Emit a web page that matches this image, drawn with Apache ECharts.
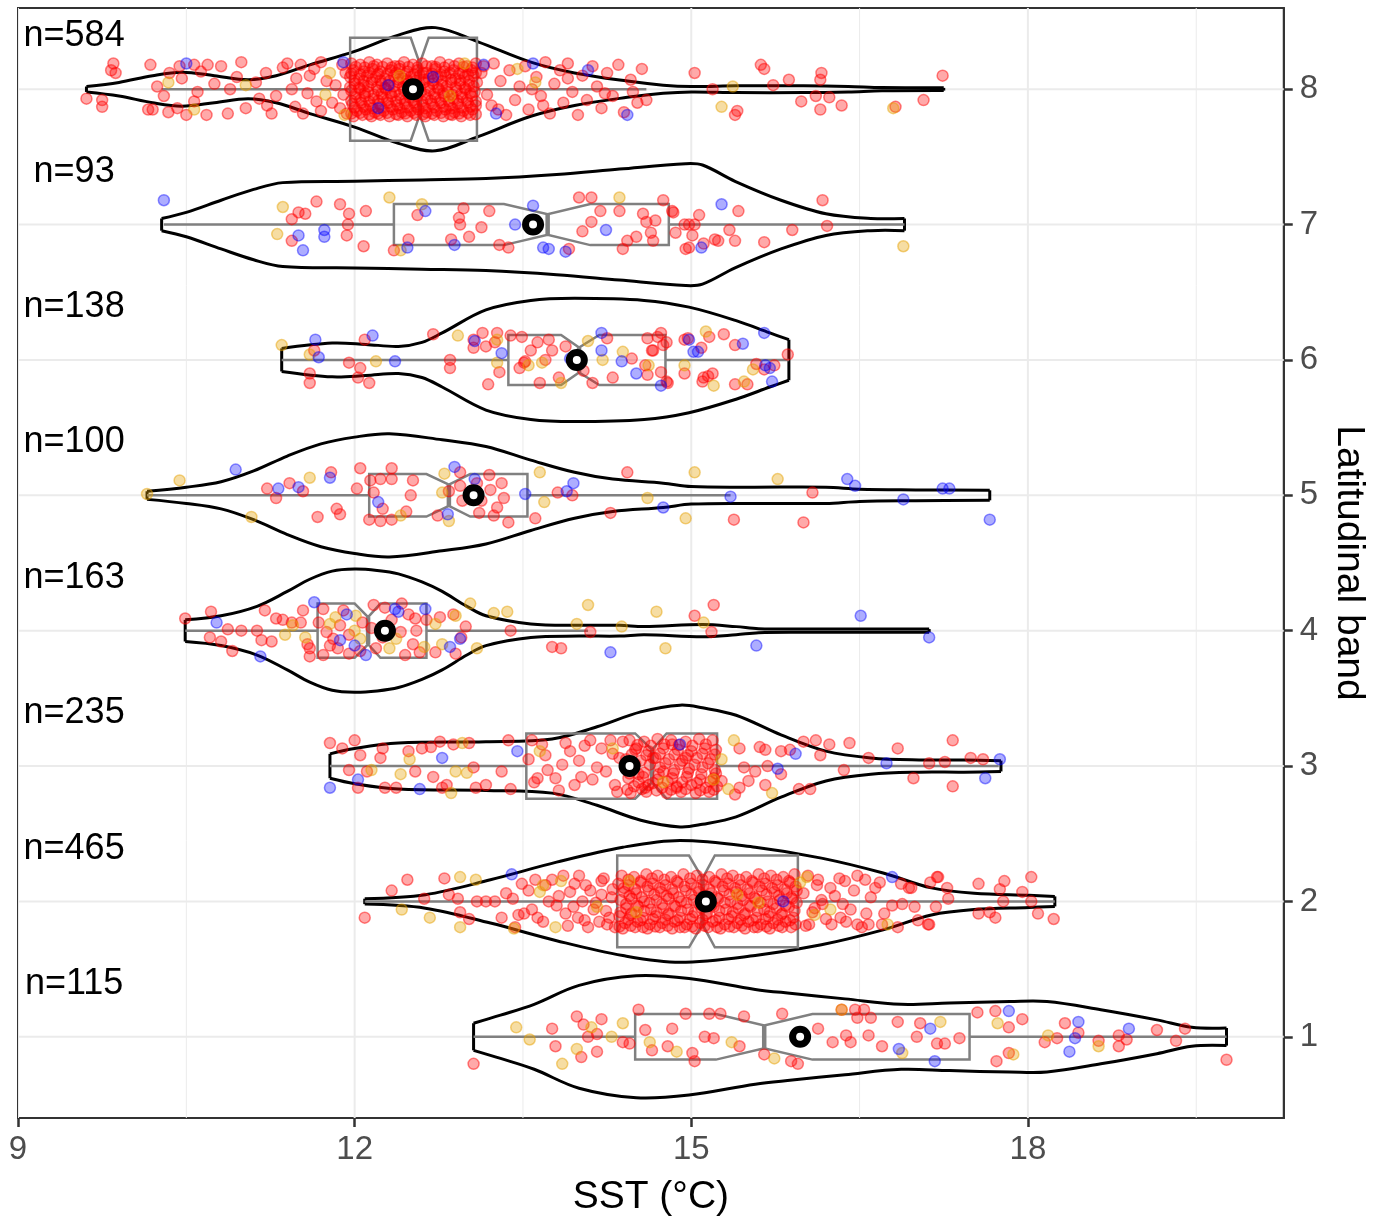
<!DOCTYPE html>
<html>
<head>
<meta charset="utf-8">
<script src="https://cdn.jsdelivr.net/npm/echarts@6/dist/echarts.min.js"></script>
<style>
  html, body { margin: 0; padding: 0; background: #fff; overflow: hidden; }
  #chart { width: 1376px; height: 1222px; }
</style>
</head>
<body>
<div id="chart"></div>
<script>
// bands 1..8 (bottom to top)
const bands = [1, 2, 3, 4, 5, 6, 7, 8];
const nCounts = [115, 465, 235, 163, 100, 138, 93, 584];
const nLabels = ['n=115', 'n=465', 'n=235', 'n=163', 'n=100', 'n=138', 'n=93', 'n=584'];
const means = [15.97, 15.13, 14.45, 12.27, 13.06, 13.98, 13.59, 12.52];

const xTicks = [9, 12, 15, 18];
const xMinor = [10.5, 13.5, 16.5, 19.5];

// box stats: [whisker low, q1, notch low, median, notch high, q3, whisker high]
const box1 = [13.06, 14.5, 15.22, 15.65, 16.08, 17.48, 19.77];
const box2 = [12.09, 14.34, 14.98, 15.1, 15.21, 15.95, 18.24];
const box3 = [11.78, 13.53, 14.5, 14.65, 14.78, 15.23, 17.74];
const box4 = [10.49, 11.67, 12.0, 12.12, 12.23, 12.64, 14.08];
const box5 = [10.15, 12.13, 12.64, 12.84, 13.03, 13.54, 15.35];
const box6 = [11.35, 13.37, 13.84, 14.0, 14.18, 14.77, 15.87];
const box7 = [10.3, 12.35, 13.33, 13.72, 14.1, 14.8, 16.9];
const box8 = [10.28, 11.96, 12.5, 12.58, 12.66, 13.09, 14.6];

// violin outlines: [x, half width in band units]
const violin1 = [[13.06,0.1],[13.3,0.16],[13.6,0.24],[14.0,0.38],[14.51,0.45],[14.98,0.43],[15.57,0.35],[15.9,0.32],[16.37,0.28],[16.87,0.24],[17.3,0.25],[17.84,0.26],[18.17,0.26],[18.65,0.2],[19.15,0.125],[19.46,0.07],[19.77,0.065]];
const violin2 = [[12.09,0.02],[12.63,0.05],[13.21,0.16],[13.8,0.29],[14.39,0.4],[14.9,0.45],[15.57,0.4],[16.16,0.32],[16.71,0.21],[17.14,0.1],[17.52,0.06],[18.01,0.045],[18.24,0.037]];
const violin3 = [[11.78,0.09],[12.0,0.13],[12.39,0.17],[13.17,0.18],[13.76,0.2],[14.16,0.29],[14.55,0.4],[14.9,0.45],[15.1,0.43],[15.4,0.375],[15.8,0.23],[16.2,0.11],[16.6,0.06],[17.03,0.045],[17.43,0.045],[17.76,0.04]];
const violin4 = [[10.49,0.08],[10.81,0.11],[11.13,0.18],[11.4,0.29],[11.6,0.38],[11.8,0.44],[12.0,0.455],[12.2,0.445],[12.39,0.42],[12.6,0.36],[12.78,0.29],[13.0,0.18],[13.17,0.11],[13.57,0.05],[14.0,0.04],[14.36,0.04],[14.58,0.03],[15.1,0.045],[15.4,0.03],[15.6,0.015],[16.0,0.012],[17.12,0.012]];
const violin5 = [[10.15,0.03],[10.5,0.06],[10.81,0.1],[11.1,0.18],[11.4,0.29],[11.7,0.38],[12.0,0.43],[12.31,0.455],[12.78,0.41],[13.17,0.36],[13.57,0.26],[13.96,0.17],[14.3,0.12],[14.75,0.09],[15.0,0.065],[15.5,0.06],[16.2,0.06],[16.5,0.045],[17.0,0.04],[17.66,0.037]];
const violin6 = [[11.35,0.085],[11.8,0.125],[12.1,0.115],[12.39,0.1],[12.6,0.13],[12.78,0.2],[13.17,0.37],[13.57,0.44],[13.96,0.455],[14.58,0.44],[14.98,0.39],[15.4,0.29],[15.7,0.2],[15.87,0.15]];
const violin7 = [[10.28,0.045],[10.5,0.09],[10.81,0.18],[11.1,0.26],[11.36,0.31],[12.0,0.32],[12.6,0.33],[13.17,0.34],[13.8,0.37],[14.36,0.41],[14.95,0.45],[15.1,0.44],[15.39,0.32],[15.8,0.18],[16.2,0.08],[16.6,0.045],[16.9,0.045]];
const violin8 = [[9.61,0.02],[9.9,0.05],[10.2,0.1],[10.46,0.125],[10.75,0.1],[11.05,0.07],[11.3,0.1],[11.6,0.18],[12.0,0.28],[12.39,0.4],[12.72,0.455],[13.1,0.35],[13.57,0.2],[13.96,0.12],[14.43,0.06],[14.75,0.03],[15.0,0.02],[15.4,0.025],[16.0,0.025],[16.4,0.02],[16.7,0.012],[17.25,0.01]];

// jittered observations: [SST, vertical jitter]
const red1 = [[13.06,-0.2],[13.76,0.06],[13.79,-0.07],[13.98,0.15],[14.04,0.09],[14.08,0],[14.02,-0.15],[14.16,-0.11],[14.2,0.13],[14.16,0.02],[14.39,-0.04],[14.45,-0.05],[14.53,0.2],[14.59,0.05],[14.65,-0.1],[14.79,-0.07],[14.83,0.06],[14.95,0.17],[15.01,-0.12],[15.03,-0.18],[15.12,0],[15.16,0.17],[15.2,-0.01],[15.26,0.17],[15.43,-0.07],[15.47,0.15],[15.65,-0.13],[15.81,0.17],[15.89,-0.18],[15.95,-0.2],[16.13,0.06],[16.26,-0.04],[16.34,0.2],[16.38,0.01],[16.42,-0.04],[16.46,0.2],[16.54,0.2],[16.48,0.14],[16.58,0.01],[16.6,0.14],[16.7,-0.07],[16.84,0.11],[17.04,0.1],[17.19,-0.05],[17.01,0],[17.26,-0.05],[17.39,-0.01],[17.55,0.18],[17.71,0.19],[17.83,0.07],[17.95,0.13],[17.72,-0.18],[17.83,-0.12],[18.15,-0.04],[18.26,-0.01],[18.33,0.1],[18.45,0.03],[18.63,-0.03],[18.81,0.01],[18.81,-0.07],[18.88,-0.02],[19.15,0.05],[19.32,-0.03],[19.4,0.06],[19.77,-0.17]];
const org1 = [[13.44,0.07],[13.56,-0.02],[13.85,-0.2],[13.98,-0.09],[14.11,0.07],[14.29,0],[14.39,0.1],[14.63,-0.04],[14.87,-0.11],[15.36,-0.04],[15.74,-0.16],[16.34,0.2],[16.88,-0.12],[17.22,0.11],[17.73,0.1],[17.87,-0.13],[18.18,0.01],[18.63,-0.07]];
const blu1 = [[16.85,-0.09],[17.13,0.06],[17.17,-0.18],[17.83,0.19],[18.37,-0.11],[18.45,0.11],[18.42,-0.01],[18.9,0.06]];

const red2 = [[12.09,-0.12],[12.33,0.08],[12.47,0.16],[12.62,0.02],[12.8,0.17],[12.84,0.05],[12.92,0.02],[12.94,-0.08],[13.02,-0.13],[13.09,0],[13.17,0],[13.25,0],[13.31,-0.12],[13.41,0.02],[13.43,-0.19],[13.49,0.13],[13.51,-0.09],[13.61,0.16],[13.63,-0.12],[13.73,0],[13.76,0.16],[13.88,-0.09],[13.96,0.13],[14.05,-0.14],[14.03,0],[14.2,0.15],[14.25,-0.17],[14.29,0.03],
[13.55,0.08],[13.68,-0.15],[13.82,0.04],[13.9,-0.18],[14.0,0.19],[14.1,0.08],[14.13,-0.06],[14.22,0.17],[14.27,-0.12],[14.08,-0.19],[13.95,-0.04],[13.7,0.12],[13.58,-0.06],[13.35,0.06],[13.46,-0.1],[14.3,0.09],[14.18,-0.15],[13.86,0.19],
[13.92,0.07],[14.06,0.12],[14.15,-0.01],[14.24,-0.07],[14.32,-0.19],[13.99,-0.12],[13.8,-0.03],[14.2,0.05],
[14.38,0.19],[14.49,0.18],[14.6,0.2],[14.7,0.19],[14.82,0.18],[14.93,0.2],[15.05,0.19],[15.16,0.18],[15.27,0.2],[15.37,0.19],[15.49,0.18],[15.6,0.2],[15.71,0.19],[15.82,0.18],[15.92,0.2],
[14.44,0.16],[14.55,0.15],[14.65,0.17],[14.76,0.16],[14.87,0.15],[14.99,0.17],[15.1,0.16],[15.21,0.15],[15.32,0.17],[15.43,0.16],[15.54,0.15],[15.65,0.17],[15.76,0.16],[15.87,0.15],
[14.35,0.13],[14.44,0.12],[14.55,0.14],[14.66,0.13],[14.77,0.12],[14.88,0.14],[15.0,0.13],[15.11,0.12],[15.22,0.14],[15.33,0.13],[15.44,0.12],[15.55,0.14],[15.66,0.13],[15.77,0.12],[15.88,0.14],
[14.4,0.1],[14.5,0.09],[14.61,0.11],[14.72,0.1],[14.83,0.09],[14.94,0.11],[15.05,0.1],[15.16,0.09],[15.28,0.11],[15.39,0.1],[15.5,0.09],[15.61,0.11],[15.72,0.1],[15.83,0.09],[15.93,0.11],
[14.4,0.07],[14.51,0.06],[14.62,0.08],[14.73,0.07],[14.84,0.06],[14.95,0.08],[15.07,0.07],[15.18,0.06],[15.29,0.08],[15.4,0.07],[15.52,0.06],[15.63,0.08],[15.74,0.07],[15.85,0.06],[15.94,0.08],
[14.45,0.04],[14.56,0.03],[14.67,0.05],[14.78,0.04],[14.89,0.03],[15.0,0.05],[15.12,0.04],[15.23,0.03],[15.34,0.05],[15.45,0.04],[15.56,0.03],[15.67,0.05],[15.78,0.04],[15.89,0.03],
[14.37,0.01],[14.47,0.02],[14.58,0],[14.69,0.01],[14.8,0.02],[14.91,0],[15.02,0.01],[15.24,0.02],[15.35,0],[15.46,0.01],[15.57,0.02],[15.68,0],[15.79,0.01],[15.9,0.02],
[14.42,-0.02],[14.52,-0.03],[14.63,-0.01],[14.74,-0.02],[14.85,-0.03],[14.96,-0.01],[15.07,-0.02],[15.18,-0.03],[15.3,-0.01],[15.41,-0.02],[15.52,-0.03],[15.62,-0.01],[15.73,-0.02],[15.84,-0.03],[15.94,-0.01],
[14.42,-0.05],[14.53,-0.04],[14.64,-0.06],[14.75,-0.05],[14.86,-0.04],[14.97,-0.06],[15.09,-0.05],[15.2,-0.04],[15.31,-0.06],[15.42,-0.05],[15.53,-0.04],[15.65,-0.06],[15.76,-0.05],[15.87,-0.04],
[14.37,-0.08],[14.47,-0.09],[14.58,-0.07],[14.69,-0.08],[14.8,-0.09],[14.91,-0.07],[15.03,-0.08],[15.14,-0.09],[15.25,-0.07],[15.37,-0.08],[15.48,-0.09],[15.59,-0.07],[15.7,-0.08],[15.81,-0.09],[15.92,-0.07],
[14.36,-0.11],[14.46,-0.1],[14.57,-0.12],[14.68,-0.11],[14.79,-0.1],[14.9,-0.12],[15.01,-0.11],[15.13,-0.1],[15.25,-0.12],[15.36,-0.11],[15.47,-0.1],[15.58,-0.12],[15.69,-0.11],[15.8,-0.1],[15.91,-0.12],
[14.44,-0.135],[14.55,-0.14],[14.66,-0.13],[14.77,-0.135],[14.88,-0.14],[14.99,-0.13],[15.1,-0.135],[15.22,-0.14],[15.33,-0.13],[15.44,-0.135],[15.55,-0.14],[15.66,-0.13],[15.77,-0.135],[15.88,-0.14],
[14.41,-0.16],[14.52,-0.15],[14.63,-0.17],[14.74,-0.16],[14.85,-0.15],[14.96,-0.17],[15.08,-0.16],[15.19,-0.15],[15.3,-0.17],[15.41,-0.16],[15.51,-0.15],[15.62,-0.17],[15.73,-0.16],[15.84,-0.15],[15.93,-0.17],
[14.36,-0.185],[14.46,-0.18],[14.57,-0.19],[14.68,-0.185],[14.79,-0.18],[14.9,-0.19],[15.01,-0.185],[15.12,-0.18],[15.23,-0.19],[15.34,-0.185],[15.45,-0.18],[15.56,-0.19],[15.67,-0.185],[15.78,-0.18],[15.89,-0.19],
[14.39,-0.2],[14.5,-0.19],[14.61,-0.2],[14.72,-0.19],[14.83,-0.2],[14.94,-0.19],[15.04,-0.2],[15.15,-0.19],[15.26,-0.2],[15.38,-0.19],[15.48,-0.2],[15.59,-0.19],[15.7,-0.2],[15.81,-0.19],
[16.13,0.16],[16.24,0.1],[16.37,0.15],[16.48,0.19],[16.17,-0.02],[16.33,-0.12],[16.05,-0.17],[16.48,-0.17],[16.56,-0.09],[16.64,0.1],[16.84,-0.19],[16.96,0.1],[17.11,-0.17],[17.19,0.18],[16.88,-0.02],
[16.0,0.06],[16.08,-0.08],[16.12,0.12],[16.2,-0.13],[16.28,0.04],[16.32,0.17],[16.42,-0.06],[16.45,0.08],[16.52,-0.19],[16.6,0.03],[16.68,0.14],[16.72,-0.09],[16.02,-0.18],[16.38,-0.15],
[16.04,0.19],[16.16,0.01],[16.25,-0.17],[16.35,-0.02],[16.55,0.16],[16.1,-0.05],
[16.87,0.13],[16.94,0.1],[17.13,0.14],[17.2,0.18],[17.28,0.1],[17.12,-0.17],[17.02,-0.14],[17.18,-0.04],[17.29,0.02],[17.56,0.13],[17.56,-0.09],[17.66,-0.08],[17.71,-0.12],[17.75,0.09],[17.79,0.15],[17.78,0],[17.95,0.07],[18.03,0.18],[18.03,0],[18.09,-0.09],[18.23,-0.13],[16.99,-0.04],[16.79,-0.03],[16.7,-0.17],[16.58,-0.17]];
const org2 = [[12.42,-0.06],[12.67,-0.12],[12.94,0.18],[13.08,0.16],[12.94,-0.19],[13.42,-0.2],[13.65,0.07],[13.68,0.12],[13.79,-0.19],[13.84,0.15],[14.16,-0.04],[14.51,-0.08],[15.41,0.05],[15.6,-0.01],[16.03,0.18],[16.24,-0.06],[16.75,-0.17],[14.45,0.15],[15.97,0.14],[16.1,-0.1]];
const blu2 = [[13.4,0.2],[15.82,0],[16.79,0.18]];

const red3 = [[11.78,0.17],[12.0,0.19],[12.05,0.08],[12.03,-0.16],[11.89,0.13],[11.95,-0.03],[12.11,-0.04],[12.25,0.13],[12.23,0.06],[12.27,-0.16],[12.37,-0.16],[12.48,0.11],[12.54,-0.04],[12.6,0.13],[12.68,0.14],[12.7,-0.08],[12.76,0.18],[12.78,-0.16],[12.82,-0.14],[12.88,0.16],[13.02,0.17],[13.06,-0.01],[13.08,-0.16],[13.17,-0.14],[13.31,-0.04],[13.37,0.19],[13.39,-0.17],[13.55,0.05],[13.63,-0.09],[13.67,0.16],[13.72,-0.03],[13.79,-0.09],[13.85,0.01],[13.92,0.11],[13.96,-0.14],[14.02,-0.08],[14.1,0.19],[14.16,-0.01],[14.2,0.13],[14.28,0.19],[14.32,-0.14],[14.36,0.06],[14.39,0.18],[14.34,-0.19],[14.51,0.13],[14.53,-0.06],[14.59,-0.16],[14.66,0.06],[14.75,-0.04],[14.83,0.16],[14.87,-0.16],[14.95,0.06],
[13.6,-0.12],[13.7,0.08],[13.82,-0.18],[13.88,0.17],[14.0,0.04],[14.05,0.15],[14.12,-0.1],[14.24,-0.04],[14.3,0.09],[13.58,0.19],
[14.45,0.19],[14.58,0.18],[14.7,0.2],[14.82,0.19],[14.95,0.18],[15.07,0.2],[15.19,0.19],
[14.52,0.155],[14.64,0.15],[14.76,0.16],[14.89,0.155],[15.01,0.15],[15.13,0.16],
[14.5,0.12],[14.62,0.11],[14.75,0.13],[14.88,0.12],[15.0,0.11],[15.12,0.13],[15.22,0.12],
[14.47,0.085],[14.6,0.08],[14.72,0.09],[14.85,0.085],[14.97,0.08],[15.1,0.09],[15.21,0.085],
[14.42,0.05],[14.55,0.04],[14.68,0.06],[14.8,0.05],[14.92,0.04],[15.05,0.06],[15.17,0.05],
[14.5,0.015],[14.63,0.01],[14.77,0.02],[14.9,0.015],[15.03,0.01],[15.15,0.02],
[14.47,-0.02],[14.72,-0.01],[14.85,-0.03],[14.98,-0.02],[15.1,-0.01],[15.21,-0.03],
[14.45,-0.055],[14.58,-0.05],[14.71,-0.06],[14.84,-0.055],[14.97,-0.05],[15.09,-0.06],[15.22,-0.055],
[14.44,-0.09],[14.57,-0.08],[14.7,-0.1],[14.83,-0.09],[14.96,-0.08],[15.08,-0.1],[15.2,-0.09],
[14.53,-0.12],[14.66,-0.125],[14.79,-0.115],[14.92,-0.12],[15.05,-0.125],[15.17,-0.115],
[14.49,-0.15],[14.62,-0.14],[14.74,-0.16],[14.87,-0.15],[15.0,-0.14],[15.13,-0.16],[15.23,-0.15],
[14.43,-0.175],[14.56,-0.17],[14.69,-0.18],[14.82,-0.175],[14.95,-0.17],[15.08,-0.18],[15.2,-0.175],
[14.46,-0.2],[14.6,-0.19],[14.78,-0.2],[14.91,-0.19],[15.04,-0.2],[15.16,-0.19],
[15.43,0.13],[15.61,0.14],[15.66,0.12],[15.8,0.11],[15.88,0.12],[16.0,0.18],[16.11,0.19],[16.23,0.16],[16.15,0.08],[16.41,0.17],[16.84,0.13],[17.33,0.19],[16.58,0.06],[17.12,0.02],[17.26,0.03],[17.49,0.06],[17.6,0.05],[15.47,-0.01],[15.57,-0.04],[15.68,0],[15.8,-0.06],[16.36,-0.03],[15.43,-0.16],[15.51,-0.11],[15.39,-0.21],[15.66,-0.14],[15.96,-0.17],[16.06,-0.17],[16.98,-0.09],[17.33,-0.15],[15.27,-0.11]];
const org3 = [[12.15,-0.03],[12.41,-0.06],[12.49,0.05],[12.86,-0.2],[12.96,0.17],[13.0,-0.05],[12.9,-0.04],[13.65,0.11],[15.38,0.19],[15.33,-0.17],[15.72,-0.2],[15.27,0.05],[14.3,0.13],[14.75,-0.12],[15.2,-0.1]];
const blu3 = [[11.78,-0.16],[12.03,-0.1],[12.78,0.06],[13.45,0.11],[15.93,0.09],[16.74,0.02],[17.75,0.05],[15.77,-0.02],[17.62,-0.09],[14.9,0.16],[12.58,-0.17]];

const red4 = [[10.49,0.09],[10.72,0.14],[10.71,-0.05],[10.87,0.01],[10.91,-0.15],[10.99,0],[10.81,-0.08],[11.2,0.15],[11.13,0],[11.17,-0.07],[11.26,-0.08],[11.3,0.09],[11.36,0.08],[11.44,0.06],[11.54,0.15],[11.52,0.06],[11.6,-0.19],[11.6,-0.13],[11.72,0.16],[11.75,-0.01],[11.78,-0.11],[11.72,-0.18],[11.87,0.04],[11.81,-0.06],[11.85,-0.13],[11.95,-0.17],[12.07,0.06],[12.17,0.19],[12.19,-0.13],[12.42,0.2],[12.27,0.17],[12.41,-0.01],[12.45,-0.18],[12.54,0.09],[12.55,0],[12.52,-0.1],[12.64,0.08],[12.76,0.1],[12.72,-0.16],[12.88,0.12],[12.95,-0.05],[12.9,-0.17],[12.99,0.03],[13.39,0],[13.76,-0.12],[13.84,-0.13],[14.1,-0.01],[15.03,0.11],[15.2,0.19],[15.18,-0.01],
[11.9,0.15],[12.05,-0.15],[12.15,0.02],[12.25,-0.05],[11.68,0.06],[11.58,-0.1],[12.33,0.08],[12.48,0.12],[12.58,-0.16],[11.95,-0.03]];
const org4 = [[11.38,-0.03],[11.56,-0.05],[11.45,0.04],[11.78,0.05],[11.83,0.1],[12.01,0.11],[12.0,0],[12.05,-0.06],[12.31,-0.13],[12.37,-0.06],[12.62,-0.12],[12.72,0.05],[12.78,-0.1],[12.9,0.11],[13.03,0.2],[13.09,-0.13],[13.24,0.13],[13.36,0.14],[14.08,0.19],[13.98,0.05],[14.38,0.03],[14.69,0.14],[14.77,-0.13],[15.11,0.06]];
const blu4 = [[10.77,0.06],[11.16,-0.19],[11.64,0.21],[11.93,0.12],[11.87,-0.07],[12.0,-0.11],[12.1,-0.18],[12.36,0.16],[12.39,0.14],[12.63,0.16],[12.85,-0.12],[12.94,-0.06],[14.28,-0.16],[15.58,-0.11],[16.51,0.11],[17.12,-0.05]];

const red5 = [[11.22,0.05],[11.3,-0.02],[11.42,0.09],[11.54,0.03],[11.79,0.17],[11.67,-0.16],[11.84,-0.1],[11.87,-0.14],[12.05,0.2],[12.02,0.05],[12.14,0.11],[12.17,0.02],[12.23,0.12],[12.13,-0.18],[12.23,-0.19],[12.33,0.2],[12.33,0.12],[12.25,-0.1],[12.33,-0.18],[12.5,0],[12.52,0.11],[12.46,-0.12],[12.74,-0.15],[12.84,0.03],[12.94,0.17],[12.94,0.07],[12.96,-0.04],[13.09,0.09],[13.13,-0.04],[13.11,-0.13],[13.21,0.04],[13.2,0.15],[13.31,0.09],[13.24,-0.15],[13.33,-0.02],[13.27,-0.09],[13.37,-0.2],[13.61,-0.17],[13.81,0.02],[13.94,0],[14.28,-0.13],[14.43,0.17],[15.38,-0.18],[16.0,-0.2],[16.08,0.02]];
const org5 = [[10.15,0.01],[10.44,0.11],[11.08,-0.16],[11.6,0.13],[12.41,-0.15],[12.78,0.02],[12.8,0.16],[12.84,-0.19],[13.65,0.17],[13.69,-0.05],[14.61,-0.02],[14.95,-0.17],[15.03,0.17],[15.77,0.12]];
const blu5 = [[10.94,0.19],[11.32,0.05],[11.5,0.06],[11.78,0.13],[12.21,-0.05],[12.89,0.21],[12.83,-0.14],[13.07,0.12],[13.52,0.01],[13.89,0.03],[13.95,0.09],[14.75,-0.09],[15.35,-0.01],[16.39,0.12],[16.46,0.07],[16.89,-0.03],[17.24,0.05],[17.3,0.05],[17.66,-0.18]];

const red6 = [[11.64,0.07],[11.6,-0.1],[11.6,-0.17],[11.95,-0.02],[12.05,-0.06],[12.03,-0.13],[12.13,-0.17],[12.09,0.15],[12.7,0.19],[12.85,0],[12.85,-0.06],[13.06,0.15],[13.06,0.09],[13.14,0.2],[13.17,0.1],[13.27,0.2],[13.25,0.13],[13.39,0.18],[13.49,0.17],[13.51,-0.02],[13.47,-0.06],[13.19,-0.18],[13.29,-0.09],[13.57,0.07],[13.52,-0.01],[13.63,0.13],[13.65,-0.17],[13.73,0.15],[13.76,0.07],[13.7,0],[13.82,-0.13],[13.88,0.1],[14.04,-0.08],[14.12,-0.17],[14.25,0.16],[14.3,-0.13],[14.47,0.01],[14.59,-0.04],[14.65,0.07],[14.61,0.16],[14.7,0.17],[14.75,0.11],[14.73,-0.09],[14.61,-0.11],[14.79,-0.17],[14.97,0.16],[14.73,0.2],[14.78,0.13],[14.66,0.07],[14.78,-0.16],[14.94,0.15],[14.94,-0.1],[15.09,0.09],[15.16,0.17],[15.29,0.19],[15.11,-0.13],[15.15,-0.12],[15.19,-0.1],[15.1,-0.16],[15.39,0.11],[15.39,-0.18],[15.5,-0.18],[15.58,-0.03],[15.65,-0.07],[15.74,-0.04],[15.86,0.04]];
const org6 = [[11.35,0.11],[11.6,0.04],[12.19,-0.01],[12.92,0.18],[13.27,0.15],[13.27,-0.02],[13.55,-0.04],[13.67,-0.02],[13.84,-0.17],[14.08,0.14],[14.21,0],[14.39,0.06],[14.62,-0.04],[14.94,-0.04],[15.13,0.21],[15.2,-0.19],[15.47,-0.16],[15.55,-0.07]];
const blu6 = [[11.65,0.15],[11.68,0.02],[12.16,0.18],[12.36,-0.01],[13.07,0.14],[13.31,0.05],[13.92,0.01],[14.2,0.2],[14.2,0.07],[14.38,-0.01],[14.51,-0.1],[14.73,-0.19],[15.02,0.06],[14.98,0.15],[15.06,0.06],[15.46,0.12],[15.65,0.2],[15.66,-0.04],[15.7,-0.06],[15.72,-0.16]];

const red7 = [[11.44,0.04],[11.5,0.09],[11.66,0.17],[11.56,0.08],[11.44,-0.12],[11.87,0.15],[11.95,0.08],[11.94,0],[11.93,-0.08],[12.08,-0.16],[12.1,0.1],[12.35,-0.19],[12.48,-0.11],[12.56,0.07],[12.86,-0.11],[12.93,0.05],[12.94,0],[12.97,0.12],[13.02,-0.09],[13.13,-0.02],[13.2,0.1],[13.29,-0.15],[13.37,-0.17],[13.91,-0.18],[14.0,0.2],[14.11,0.2],[14.03,-0.05],[14.11,0.02],[14.19,0.1],[14.36,0.1],[14.43,-0.12],[14.39,-0.18],[14.51,-0.09],[14.57,0.08],[14.6,0.02],[14.66,-0.12],[14.75,0.18],[14.83,0.1],[14.95,-0.18],[14.98,0],[14.68,0.03],[14.64,-0.06],[14.84,0.09],[14.86,-0.06],[14.94,0],[15.03,0],[15.01,-0.08],[15.07,0.07],[14.98,-0.17],[15.11,-0.14],[15.21,-0.11],[15.24,-0.12],[15.34,-0.04],[15.39,-0.12],[15.42,0.1],[15.65,-0.13],[15.9,-0.04],[16.17,0.18],[16.21,-0.01]];
const org7 = [[11.36,0.13],[12.31,0.2],[11.31,-0.07],[12.41,-0.19],[12.6,0.15],[14.36,0.2],[16.89,-0.16]];
const blu7 = [[10.3,0.18],[11.5,-0.08],[11.54,-0.19],[11.73,-0.04],[11.73,-0.09],[12.47,-0.17],[12.63,0.1],[12.89,-0.15],[13.43,0],[13.59,0.14],[13.68,-0.17],[13.73,-0.18],[13.88,-0.2],[14.24,-0.04],[15.09,-0.17],[15.27,0.15]];

const red8 = [[9.85,0.19],[9.83,0.14],[9.87,0.12],[9.61,-0.07],[9.75,-0.08],[9.75,-0.13],[10.18,0.18],[10.24,0.02],[10.2,-0.15],[10.16,-0.15],[10.34,-0.17],[10.44,0.17],[10.57,0.18],[10.63,0.13],[10.69,0.18],[10.81,0.17],[10.46,0.08],[10.57,-0.09],[10.42,-0.14],[10.5,-0.19],[10.68,-0.19],[10.87,-0.18],[10.99,0.2],[11.03,-0.14],[10.89,0],[11.21,0.12],[11.22,-0.12],[11.26,-0.18],[11.36,0.16],[11.44,0],[11.52,0.18],[11.54,-0.18],[11.6,0.1],[11.66,-0.09],[11.83,0.03],[11.87,-0.14],[11.89,0.18],
[11.12,0.05],[11.3,-0.05],[11.4,0.19],[11.48,0.08],[11.58,-0.03],[11.64,0.15],[11.7,-0.16],[11.75,0.06],[11.8,-0.1],[11.92,0.12],[11.9,-0.04],[11.93,-0.18],[11.7,0.2],[11.47,-0.13],[11.15,-0.07],[10.95,0.09],[10.75,0.04],[10.35,0.12],[10.3,-0.05],[10.6,-0.02],
[11.97,0.19],[12.05,0.18],[12.13,0.2],[12.2,0.18],[12.29,0.19],[12.36,0.17],[12.44,0.2],[12.52,0.18],[12.6,0.19],[12.69,0.17],[12.76,0.2],[12.84,0.18],[12.93,0.19],[13.0,0.17],[13.08,0.19],
[12.01,0.165],[12.09,0.16],[12.17,0.17],[12.25,0.165],[12.33,0.16],[12.4,0.17],[12.48,0.165],[12.56,0.16],[12.64,0.17],[12.72,0.165],[12.8,0.16],[12.89,0.17],[12.97,0.165],[13.05,0.16],
[11.99,0.14],[12.08,0.13],[12.16,0.15],[12.23,0.13],[12.32,0.14],[12.4,0.15],[12.47,0.13],[12.56,0.14],[12.64,0.12],[12.72,0.15],[12.8,0.13],[12.88,0.14],[12.96,0.12],[13.04,0.14],
[11.97,0.115],[12.05,0.11],[12.13,0.12],[12.21,0.115],[12.29,0.11],[12.37,0.12],[12.45,0.115],[12.53,0.11],[12.61,0.12],[12.69,0.115],[12.77,0.11],[12.85,0.12],[12.93,0.115],[13.01,0.11],[13.08,0.12],
[11.96,0.09],[12.04,0.08],[12.11,0.1],[12.19,0.09],[12.27,0.08],[12.35,0.1],[12.43,0.08],[12.5,0.09],[12.58,0.1],[12.66,0.08],[12.74,0.09],[12.81,0.1],[12.9,0.08],[12.98,0.09],[13.06,0.1],
[12.0,0.065],[12.08,0.06],[12.16,0.07],[12.23,0.065],[12.31,0.06],[12.39,0.07],[12.47,0.065],[12.54,0.06],[12.62,0.07],[12.7,0.065],[12.78,0.06],[12.86,0.07],[12.94,0.065],[13.02,0.06],
[12.0,0.04],[12.08,0.03],[12.15,0.05],[12.24,0.04],[12.31,0.03],[12.39,0.05],[12.46,0.04],[12.55,0.03],[12.62,0.05],[12.7,0.04],[12.78,0.03],[12.86,0.05],[12.94,0.04],[13.02,0.03],[13.09,0.05],
[11.96,0.015],[12.04,0.01],[12.12,0.02],[12.2,0.015],[12.27,0.01],[12.35,0.02],[12.43,0.015],[12.51,0.01],[12.58,0.02],[12.66,0.015],[12.74,0.01],[12.82,0.02],[12.9,0.015],[12.98,0.01],[13.06,0.02],
[11.97,-0.01],[12.05,0],[12.12,-0.02],[12.21,-0.01],[12.28,0],[12.36,-0.02],[12.44,-0.01],[12.51,0],[12.59,-0.02],[12.67,-0.01],[12.75,0],[12.83,-0.02],[12.91,-0.01],[12.99,0],[13.07,-0.02],
[12.01,-0.035],[12.09,-0.03],[12.17,-0.04],[12.24,-0.035],[12.32,-0.03],[12.4,-0.04],[12.48,-0.035],[12.55,-0.03],[12.63,-0.04],[12.71,-0.035],[12.79,-0.03],[12.87,-0.04],[12.95,-0.035],[13.03,-0.03],
[12.01,-0.06],[12.09,-0.05],[12.17,-0.07],[12.25,-0.06],[12.33,-0.05],[12.41,-0.07],[12.49,-0.06],[12.56,-0.05],[12.65,-0.07],[12.72,-0.06],[12.8,-0.05],[12.88,-0.07],[12.96,-0.06],[13.04,-0.05],
[11.97,-0.085],[12.05,-0.08],[12.13,-0.09],[12.21,-0.085],[12.29,-0.08],[12.37,-0.09],[12.45,-0.085],[12.52,-0.08],[12.6,-0.09],[12.68,-0.085],[12.76,-0.08],[12.84,-0.09],[12.92,-0.085],[13.0,-0.08],[13.08,-0.09],
[11.98,-0.11],[12.06,-0.1],[12.14,-0.12],[12.22,-0.11],[12.3,-0.1],[12.38,-0.12],[12.45,-0.11],[12.53,-0.1],[12.61,-0.12],[12.69,-0.11],[12.77,-0.1],[12.85,-0.12],[12.92,-0.11],[13.01,-0.1],[13.08,-0.12],
[12.0,-0.135],[12.08,-0.13],[12.16,-0.14],[12.24,-0.135],[12.32,-0.13],[12.4,-0.14],[12.47,-0.135],[12.55,-0.13],[12.63,-0.14],[12.71,-0.135],[12.79,-0.13],[12.87,-0.14],[12.95,-0.135],[13.03,-0.13],
[12.02,-0.16],[12.1,-0.15],[12.18,-0.17],[12.26,-0.16],[12.34,-0.15],[12.42,-0.17],[12.5,-0.16],[12.57,-0.15],[12.64,-0.17],[12.73,-0.16],[12.81,-0.15],[12.89,-0.17],[12.97,-0.16],[13.05,-0.15],
[11.97,-0.18],[12.05,-0.175],[12.13,-0.185],[12.21,-0.18],[12.29,-0.175],[12.37,-0.185],[12.45,-0.18],[12.53,-0.175],[12.61,-0.185],[12.69,-0.18],[12.77,-0.175],[12.85,-0.185],[12.93,-0.18],[13.01,-0.175],[13.08,-0.185],
[11.99,-0.2],[12.07,-0.19],[12.15,-0.2],[12.23,-0.19],[12.31,-0.2],[12.39,-0.19],[12.47,-0.2],[12.55,-0.19],[12.63,-0.2],[12.71,-0.19],[12.79,-0.2],[12.87,-0.19],[12.95,-0.2],[13.03,-0.19],
[13.13,0.12],[13.18,-0.04],[13.22,-0.12],[13.24,0.19],[13.3,0.06],[13.35,-0.19],[13.38,0.14],[13.43,-0.08],[13.47,0.02],[13.52,0.17],[13.55,-0.15],[13.62,0.09],[13.66,-0.05],[13.7,0.2],[13.74,-0.18],[13.78,0.04],[13.83,0.14],[13.86,-0.1],[13.9,0.19],[13.94,-0.02],[13.99,-0.19],[14.03,0.1],[14.07,-0.08],[14.12,0.17],[14.16,0.02],[14.2,-0.14],[14.25,0.12],[14.3,-0.05],[14.35,0.18],[14.4,-0.17],[14.46,0.07],[14.52,-0.1],[14.56,0.15],[13.15,0.17],[13.28,-0.15],[13.58,0],[13.9,0.08],[14.23,-0.03],[14.48,-0.02],[13.68,-0.12],
[14.6,-0.08],[15.03,0.12],[15.19,0],[15.41,-0.16],[15.39,-0.19],[15.62,0.18],[15.65,0.15],[15.73,0.03],[15.87,0.07],[15.98,-0.09],[16.16,0.12],[16.15,0.07],[16.11,-0.05],[16.23,-0.06],[16.15,-0.15],[16.34,-0.12],[16.82,-0.13],[17.07,-0.08],[17.24,0.1]];
const org8 = [[10.34,0.05],[10.57,-0.15],[11.03,0.03],[11.74,-0.04],[11.78,0.12],[11.91,-0.19],[12.4,0.1],[12.98,0.19],[13.45,0.15],[13.61,0.05],[15.37,0.02],[15.27,-0.13],[16.8,-0.14],[12.85,-0.05]];
const blu8 = [[10.5,0.19],[12.3,0.03],[12.21,-0.14],[12.7,0.09],[13.15,0.18],[13.26,-0.18],[13.59,0.19],[14.08,0.14],[14.43,-0.19],[11.9,0.2]];

const boxes = [box1, box2, box3, box4, box5, box6, box7, box8];
const violins = [violin1, violin2, violin3, violin4, violin5, violin6, violin7, violin8];
const reds = [red1, red2, red3, red4, red5, red6, red7, red8];
const orgs = [org1, org2, org3, org4, org5, org6, org7, org8];
const blus = [blu1, blu2, blu3, blu4, blu5, blu6, blu7, blu8];

const FONT = '"Liberation Sans", Arial, Helvetica, sans-serif';

function toXY(groups) {
  let out = [];
  groups.forEach((g, i) => g.forEach(p => out.push([p[0], i + 1 + p[1]])));
  return out;
}

const chart = echarts.init(document.getElementById('chart'));

// background grid lines (drawn by hand so they sit on the band values)
function gridItem(params, api) {
  const cs = params.coordSys;
  const kids = [];
  xMinor.forEach(v => {
    const p = api.coord([v, 1]);
    kids.push({ type: 'line', shape: { x1: p[0], y1: cs.y, x2: p[0], y2: cs.y + cs.height }, style: { stroke: '#ebebeb', lineWidth: 1 } });
  });
  xTicks.forEach(v => {
    const p = api.coord([v, 1]);
    kids.push({ type: 'line', shape: { x1: p[0], y1: cs.y, x2: p[0], y2: cs.y + cs.height }, style: { stroke: '#ebebeb', lineWidth: 2 } });
  });
  bands.forEach(b => {
    const p = api.coord([9, b]);
    kids.push({ type: 'line', shape: { x1: cs.x, y1: p[1], x2: cs.x + cs.width, y2: p[1] }, style: { stroke: '#ebebeb', lineWidth: 2 } });
  });
  return { type: 'group', children: kids };
}

function violinItem(params, api) {
  const b = api.value(1);
  const v = violins[b - 1];
  const up = v.map(p => api.coord([p[0], b + p[1]]));
  const lo = v.map(p => api.coord([p[0], b - p[1]]));
  const st = { stroke: '#000', lineWidth: 3, fill: null };
  const n = up.length - 1;
  return {
    type: 'group',
    children: [
      { type: 'polyline', shape: { points: up, smooth: 0.35 }, style: st },
      { type: 'polyline', shape: { points: lo, smooth: 0.35 }, style: st },
      { type: 'line', shape: { x1: up[0][0], y1: up[0][1], x2: lo[0][0], y2: lo[0][1] }, style: st },
      { type: 'line', shape: { x1: up[n][0], y1: up[n][1], x2: lo[n][0], y2: lo[n][1] }, style: st }
    ]
  };
}

function boxItem(params, api) {
  const b = api.value(1);
  const s = boxes[b - 1];
  const w = 0.38 * Math.sqrt(nCounts[b - 1] / 584);
  const P = (x, dy) => api.coord([x, b + dy]);
  const st = { stroke: '#808080', lineWidth: 2.5, fill: null };
  const outline = [P(s[1], w), P(s[2], w), P(s[3], w / 2), P(s[4], w), P(s[5], w),
                   P(s[5], -w), P(s[4], -w), P(s[3], -w / 2), P(s[2], -w), P(s[1], -w)];
  const m1 = P(s[3], w / 2), m2 = P(s[3], -w / 2);
  const a = P(s[0], 0), q1 = P(s[1], 0), q3 = P(s[5], 0), z = P(s[6], 0);
  return {
    type: 'group',
    children: [
      { type: 'line', shape: { x1: a[0], y1: a[1], x2: q1[0], y2: q1[1] }, style: st },
      { type: 'line', shape: { x1: q3[0], y1: q3[1], x2: z[0], y2: z[1] }, style: st },
      { type: 'polygon', shape: { points: outline }, style: st },
      { type: 'line', shape: { x1: m1[0], y1: m1[1], x2: m2[0], y2: m2[1] }, style: { stroke: '#808080', lineWidth: 4.5 } }
    ]
  };
}

function labelItem(params, api) {
  const b = api.value(1);
  const p = api.coord([9.5, b + 0.39]);
  return {
    type: 'text', x: p[0], y: p[1],
    style: { text: nLabels[b - 1], fontSize: 36, fontFamily: FONT, fill: '#000', align: 'center', verticalAlign: 'middle' }
  };
}

const bandData = bands.map(b => [9, b]);

const option = {
  animation: false,
  backgroundColor: '#fff',
  grid: { left: 18, right: 80, top: 8, bottom: 101, show: true, borderColor: '#333', borderWidth: 2, backgroundColor: 'transparent' },
  xAxis: {
    type: 'value', min: 9, max: 20.28,
    name: 'SST (°C)', nameLocation: 'middle', nameGap: 60,
    nameTextStyle: { fontSize: 39, fontFamily: FONT, color: '#000' },
    axisLine: { show: true, lineStyle: { color: '#333', width: 2 } },
    axisTick: { show: true, length: 9, customValues: xTicks, lineStyle: { color: '#333', width: 2.5 } },
    axisLabel: { customValues: xTicks, fontSize: 33, fontFamily: FONT, color: '#4d4d4d', margin: 15 },
    splitLine: { show: false }
  },
  yAxis: {
    type: 'value', min: 0.4, max: 8.6, position: 'right',
    name: 'Latitudinal band', nameLocation: 'middle', nameGap: 42, nameRotate: -90,
    nameTextStyle: { fontSize: 39, fontFamily: FONT, color: '#000' },
    axisLine: { show: true, onZero: false, lineStyle: { color: '#333', width: 2 } },
    axisTick: { show: true, length: 9, customValues: bands, lineStyle: { color: '#333', width: 2.5 } },
    axisLabel: { customValues: bands, fontSize: 33, fontFamily: FONT, color: '#4d4d4d', margin: 16 },
    splitLine: { show: false }
  },
  series: [
    { type: 'custom', renderItem: gridItem, data: [[9, 1]], silent: true, clip: true },
    { type: 'scatter', data: toXY(reds), symbolSize: 11, silent: true,
      itemStyle: { color: 'rgba(255,0,0,0.42)', borderColor: 'rgba(255,0,0,0.6)', borderWidth: 1.5 } },
    { type: 'scatter', data: toXY(orgs), symbolSize: 11, silent: true,
      itemStyle: { color: 'rgba(230,160,0,0.45)', borderColor: 'rgba(230,160,0,0.6)', borderWidth: 1.5 } },
    { type: 'scatter', data: toXY(blus), symbolSize: 11, silent: true,
      itemStyle: { color: 'rgba(0,0,255,0.4)', borderColor: 'rgba(0,0,255,0.55)', borderWidth: 1.5 } },
    { type: 'custom', renderItem: violinItem, data: bandData, silent: true },
    { type: 'custom', renderItem: boxItem, data: bandData, silent: true },
    { type: 'scatter', data: means.map((m, i) => [m, i + 1]), symbolSize: 15, silent: true,
      itemStyle: { color: '#fff', borderColor: '#000', borderWidth: 7, opacity: 1 } },
    { type: 'custom', renderItem: labelItem, data: bandData, silent: true, clip: false }
  ]
};

chart.setOption(option);
</script>
</body>
</html>
